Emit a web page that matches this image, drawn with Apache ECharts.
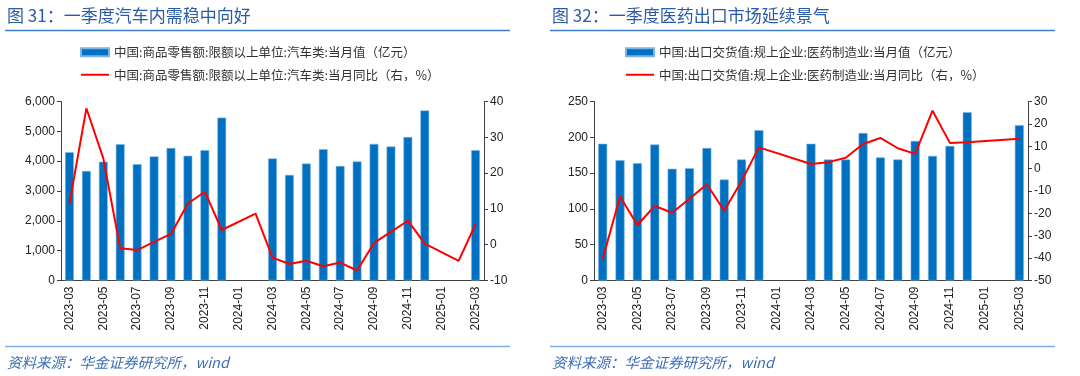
<!DOCTYPE html>
<html>
<head>
<meta charset="utf-8">
<title>汽车与医药</title>
<script src="https://cdn.jsdelivr.net/npm/echarts@6/dist/echarts.min.js"></script>
<style>
  html, body { margin: 0; padding: 0; background: #fff; }
  #main { width: 1080px; height: 376px; }
</style>
</head>
<body>
<div id="main"></div>
<script>
// x 轴月份
const months = [
  '2023-03', '2023-04', '2023-05', '2023-06', '2023-07', '2023-08', '2023-09', '2023-10', '2023-11', '2023-12',
  '2024-01', '2024-02', '2024-03', '2024-04', '2024-05', '2024-06', '2024-07', '2024-08', '2024-09', '2024-10',
  '2024-11', '2024-12', '2025-01', '2025-02', '2025-03'
]
// 图31 汽车类零售额
const autoSales = [4300, 3670, 3980, 4570, 3900, 4160, 4440, 4180, 4370, 5460, null, null,
  4090, 3540, 3920, 4400, 3840, 3990, 4580, 4490, 4810, 5700, null, null, 4370]
const autoYoy = [11.5, 38.1, 24.1, -1.0, -1.5, 0.8, 3.0, 11.5, 14.8, 4.1, null, 8.7,
  -3.6, -5.4, -4.5, -6.0, -5.0, -7.2, 0.5, 3.6, 6.7, 0.3, null, -4.5, 5.7]
// 图32 医药制造业出口交货值
const pharmaExport = [191, 168, 164, 190, 156, 157, 185, 141, 169, 210, null, null,
  191, 169, 169, 206, 172, 169, 195, 174, 188, 235, null, null, 217]
const pharmaYoy = [-40.4, -12.5, -25.2, -16.7, -19.7, -13.5, -7.0, -18.8, -5.5, 9.5, null, null,
  2.1, 2.9, 4.9, 11.0, 13.7, 9.1, 6.6, 25.9, 11.5, 11.8, null, null, 13.4]

const titles = ['图 31：一季度汽车内需稳中向好', '图 32：一季度医药出口市场延续景气']
const legendNames = [
  ['中国:商品零售额:限额以上单位:汽车类:当月值（亿元）', '中国:商品零售额:限额以上单位:汽车类:当月同比（右，%）'],
  ['中国:出口交货值:规上企业:医药制造业:当月值（亿元）', '中国:出口交货值:规上企业:医药制造业:当月同比（右，%）']
]
const source = '资料来源：华金证券研究所，wind'

const blue = '#0070C0'
const red = '#FF0000'
const axisColor = '#404040'
const numFont = "'Liberation Sans', Arial, sans-serif"
const cjkFont = "'Noto Sans CJK SC', sans-serif"

const chart = echarts.init(document.getElementById('main'))

function xAxisOf(idx) {
  return {
    type: 'category',
    gridIndex: idx,
    data: months,
    axisLine: { lineStyle: { color: axisColor } },
    axisTick: { interval: 1, length: 4, lineStyle: { color: axisColor } },
    axisLabel: { interval: 1, rotate: 90, fontSize: 12, color: '#222', fontFamily: numFont, margin: 6 }
  }
}

function yAxisOf(idx, pos, min, max, interval, fmt) {
  return {
    type: 'value',
    gridIndex: idx,
    position: pos,
    min: min,
    max: max,
    interval: interval,
    splitLine: { show: false },
    axisLine: { show: true, lineStyle: { color: axisColor } },
    axisTick: { show: true, length: 4, lineStyle: { color: axisColor } },
    axisLabel: { fontSize: 12, color: '#222', fontFamily: numFont, margin: 6, formatter: fmt }
  }
}

const thousands = (v) => v.toLocaleString('en-US')

function legendOf(left, names) {
  return {
    left: left, top: 46, orient: 'vertical', padding: 0,
    itemWidth: 28, itemHeight: 8, itemGap: 10,
    textStyle: { fontSize: 12.5, color: '#333', fontFamily: cjkFont },
    data: [
      { name: names[0], icon: 'rect' },
      { name: names[1], itemStyle: { opacity: 0 } }
    ]
  }
}

const graphics = []
const panelX = [5, 550]
panelX.forEach((x0, i) => {
  graphics.push({
    type: 'text', left: x0 + 2, top: 7,
    style: { text: titles[i], fill: '#2B5BA8', font: '17px ' + cjkFont }
  })
  graphics.push({
    type: 'line', shape: { x1: x0, y1: 30.5, x2: x0 + 505, y2: 30.5 },
    style: { stroke: '#3D7CC9', lineWidth: 1.5 }
  })
  graphics.push({
    type: 'line', shape: { x1: x0, y1: 346.5, x2: x0 + 505, y2: 346.5 },
    style: { stroke: '#7FAEDD', lineWidth: 1.5 }
  })
  graphics.push({
    type: 'text', left: x0 + 2, top: 355,
    style: { text: source, fill: '#3C6EB4', font: 'italic 14.5px ' + cjkFont }
  })
})

const option = {
  animation: false,
  textStyle: { fontFamily: cjkFont },
  graphic: graphics,
  legend: [legendOf(80, legendNames[0]), legendOf(625, legendNames[1])],
  grid: [
    { left: 61, top: 101.5, width: 423, height: 179 },
    { left: 594, top: 101.5, width: 434, height: 179 }
  ],
  xAxis: [xAxisOf(0), xAxisOf(1)],
  yAxis: [
    yAxisOf(0, 'left', 0, 6000, 1000, thousands),
    yAxisOf(0, 'right', -10, 40, 10),
    yAxisOf(1, 'left', 0, 250, 50),
    yAxisOf(1, 'right', -50, 30, 10)
  ],
  series: [
    {
      name: legendNames[0][0], type: 'bar', xAxisIndex: 0, yAxisIndex: 0,
      data: autoSales, barWidth: '52%',
      itemStyle: { color: blue, borderColor: '#7DB3E3', borderWidth: 0.6 }
    },
    {
      name: legendNames[0][1], type: 'line', xAxisIndex: 0, yAxisIndex: 1,
      data: autoYoy, symbol: 'none', connectNulls: true,
      lineStyle: { color: red, width: 2 }, itemStyle: { color: red }
    },
    {
      name: legendNames[1][0], type: 'bar', xAxisIndex: 1, yAxisIndex: 2,
      data: pharmaExport, barWidth: '52%',
      itemStyle: { color: blue, borderColor: '#7DB3E3', borderWidth: 0.6 }
    },
    {
      name: legendNames[1][1], type: 'line', xAxisIndex: 1, yAxisIndex: 3,
      data: pharmaYoy, symbol: 'none', connectNulls: true,
      lineStyle: { color: red, width: 2 }, itemStyle: { color: red }
    }
  ]
}

chart.setOption(option)
</script>
</body>
</html>
